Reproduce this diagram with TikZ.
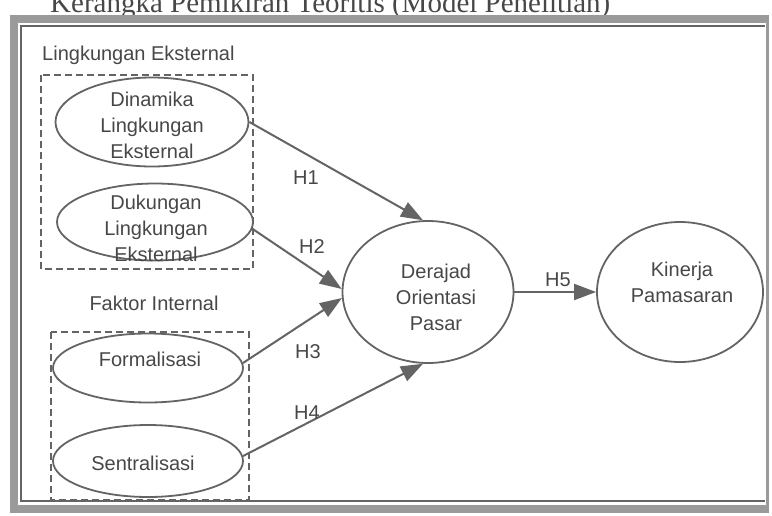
\documentclass[tikz,border=0pt]{standalone}
\usepackage{fontspec}
\setmainfont{Liberation Sans}
\newfontfamily\titlefont{Liberation Serif}
\usetikzlibrary{arrows.meta,shapes.geometric}
\definecolor{inkgray}{HTML}{474747}
\definecolor{linegray}{HTML}{646464}
\definecolor{framegray}{HTML}{9A9A9A}
\begin{document}
\begin{tikzpicture}[x=1pt, y=-1pt,
	var/.style={ellipse, draw=linegray, line width=1.8pt, inner sep=0pt},
	txt/.style={text=inkgray, align=center, inner sep=0pt, font=\fontsize{20}{26}\selectfont},
	hyp/.style={draw=linegray, line width=2pt, -{Triangle[length=22pt, width=16pt]}},
	grp/.style={draw=linegray, line width=1.5pt, dash pattern=on 7pt off 4pt}]
	\useasboundingbox (0,0) rectangle (772,515);
	\begin{scope}
		\clip (0,0) rectangle (772,515);
		\node [anchor=base west, inner sep=0pt, text=inkgray, font=\titlefont\fontsize{29}{29}\selectfont] (title) at (50,12) {Kerangka Pemikiran Teoritis (Model Penelitian)};
	\end{scope}
	\draw [framegray, line width=8pt] (767,19) -- (14,19) -- (14,509) -- (767,509);
	\draw [framegray, line width=3pt] (767,15) -- (767,513);
	\draw [linegray, line width=1.2pt] (765,26) -- (21,26) -- (21,501) -- (765,501);
	\draw [grp] (41,75) rectangle (253,269);
	\draw [grp] (51,332) rectangle (249,500);
	\node [txt, anchor=west] (ext) at (42,55) {Lingkungan Eksternal};
	\node [txt] (int) at (154,303) {Faktor Internal};
	\node [var, minimum width=193pt, minimum height=89pt] (din) at (152,122) {};
	\node [var, minimum width=196pt, minimum height=77pt] (duk) at (155,222) {};
	\node [var, minimum width=190pt, minimum height=69pt] (frm) at (148,368) {};
	\node [var, minimum width=190pt, minimum height=72pt] (sen) at (148,461) {};
	\node [var, minimum width=171pt, minimum height=142pt] (der) at (428,292) {};
	\node [var, minimum width=166pt, minimum height=140pt] (kin) at (680,292) {};
	\node [txt] (dinT) at (152,125) {Dinamika\\Lingkungan\\Eksternal};
	\node [txt] (dukT) at (156,228) {Dukungan\\Lingkungan\\Eksternal};
	\node [txt] (frmT) at (150,359) {Formalisasi};
	\node [txt] (senT) at (143,463) {Sentralisasi};
	\node [txt] (derT) at (436,297) {Derajad\\Orientasi\\Pasar};
	\node [txt] (kinT) at (682,282) {Kinerja\\Pamasaran};
	\draw [hyp] (din.east) -- (der.94);
	\draw [hyp] (duk.-4) -- (der.178);
	\draw [hyp] (frm.3) -- (der.184);
	\draw [hyp] (sen.3) -- (der.266);
	\draw [hyp] (der.east) -- (kin.west);
	\node [txt] (h1) at (306,178) {H1};
	\node [txt] (h2) at (312,247) {H2};
	\node [txt] (h3) at (308,352) {H3};
	\node [txt] (h4) at (307,413) {H4};
	\node [txt] (h5) at (558,280) {H5};
\end{tikzpicture}
\end{document}
